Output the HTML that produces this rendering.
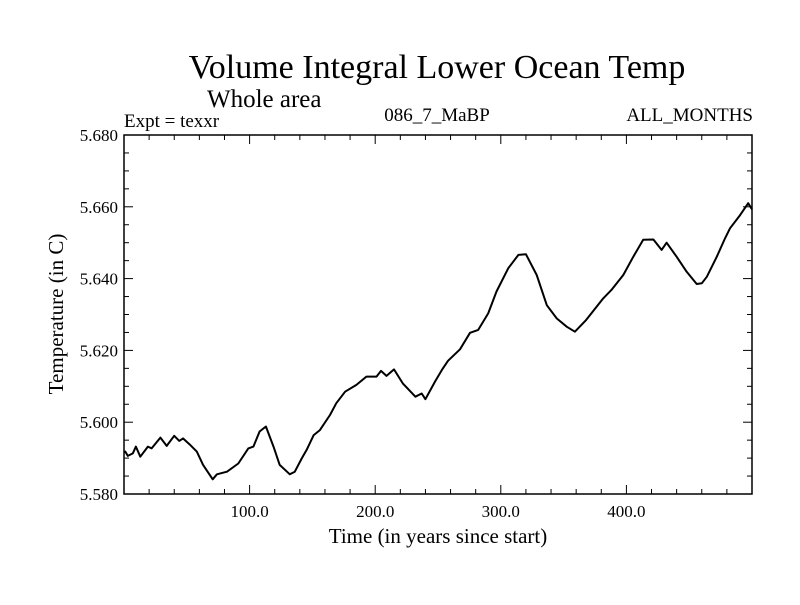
<!DOCTYPE html>
<html><head><meta charset="utf-8"><style>
body{margin:0;background:#fff}
svg text{font-family:"Liberation Serif",serif;fill:#000}
</style></head><body>
<svg id="chart" width="800" height="600" xmlns="http://www.w3.org/2000/svg">
<rect width="800" height="600" fill="#fff"/>
<text x="437" y="78" font-size="34" text-anchor="middle">Volume Integral Lower Ocean Temp</text>
<text x="207" y="107" font-size="25">Whole area</text>
<text x="124" y="127" font-size="19">Expt = texxr</text>
<text x="437" y="121" font-size="19" text-anchor="middle">086_7_MaBP</text>
<text x="753" y="121" font-size="19" text-anchor="end">ALL_MONTHS</text>
<text x="0" y="0" font-size="21" text-anchor="middle" transform="translate(63,314) rotate(-90)">Temperature (in C)</text>
<text x="438" y="543" font-size="21" text-anchor="middle">Time (in years since start)</text>
<g id="axes"></g>
<path id="series" fill="none" stroke="#000" stroke-width="2" stroke-linejoin="round"/>
<rect x="124" y="135" width="628" height="359" fill="none" stroke="#000" stroke-width="1.5"/>
</svg>
<script>
const years=[0,1,3,7,9.5,13,19,22,29,34,40,44,47,52,58,63,70.6,74,82,91,99,103,108,113,119,124,132,136,141.5,145.5,151,156,164,169,176,185,193,201,204.6,209,215,222,232,237,240,247.6,253,258,267.5,275.5,282,290,296.6,306,314,320,328.6,336.6,344.5,352.5,359,368,381.6,388,397.5,405.5,413.4,421.5,428,432,440,448,456,460,464,472,478.5,482.5,490.5,497,500];
const temps=[5.5916,5.5918,5.5906,5.5913,5.5932,5.5904,5.5932,5.5927,5.5957,5.5934,5.5962,5.5948,5.5955,5.5939,5.5918,5.5881,5.5841,5.5855,5.5862,5.5885,5.5927,5.5932,5.5974,5.5988,5.5932,5.5881,5.5855,5.5862,5.5899,5.5923,5.5964,5.5978,5.6020,5.6053,5.6085,5.6104,5.6127,5.6127,5.6143,5.6129,5.6147,5.6108,5.6071,5.6080,5.6064,5.6113,5.6145,5.6171,5.6203,5.6249,5.6257,5.6303,5.6364,5.6429,5.6466,5.6468,5.6410,5.6326,5.6289,5.6266,5.6252,5.6285,5.6345,5.6368,5.6410,5.6461,5.6508,5.6509,5.6480,5.6500,5.6461,5.6419,5.6385,5.6387,5.6405,5.6461,5.6512,5.6540,5.6577,5.6610,5.6593];
const xTickLabels=["100.0","200.0","300.0","400.0"];
const xTickValues=[100,200,300,400];
const yTickValues=[5.58,5.60,5.62,5.64,5.66,5.68];
const yTickLabels=["5.580","5.600","5.620","5.640","5.660","5.680"];
const X0=124,X1=752,Y0=494,Y1=135;
const xs=t=>X0+(t-0)/500*(X1-X0);
const ys=v=>Y0-(v-5.58)/0.1*(Y0-Y1);
const NS="http://www.w3.org/2000/svg";
const g=document.getElementById('axes');
function ln(x1,y1,x2,y2,name){const l=document.createElementNS(NS,'line');
l.setAttribute('x1',x1);l.setAttribute('y1',y1);l.setAttribute('x2',x2);l.setAttribute('y2',y2);
l.setAttribute('stroke','#000');l.setAttribute('stroke-width','1');


g.appendChild(l);}
function tx(x,y,s,anchor,name){const t=document.createElementNS(NS,'text');
t.setAttribute('x',x);t.setAttribute('y',y);t.setAttribute('font-size','17');t.setAttribute('text-anchor',anchor);t.textContent=s;


g.appendChild(t);}
for(let t=20;t<500;t+=20){const x=xs(t);const major=t%100===0;const len=major?9:5;
ln(x,Y0,x,Y0-len,'x-tick');ln(x,Y1,x,Y1+len,'x-tick-top');}
for(let v=5.585;v<5.6799;v+=0.005){const y=ys(v);const major=Math.abs((v-5.58)/0.02-Math.round((v-5.58)/0.02))<1e-6;const len=major?9:5;
ln(X0,y,X0+len,y,'y-tick');ln(X1,y,X1-len,y,'y-tick-right');}
xTickValues.forEach((v,i)=>tx(xs(v),Y0+23,xTickLabels[i],'middle','x-tick-label'));
yTickValues.forEach((v,i)=>tx(X0-6,ys(v)+6,yTickLabels[i],'end','y-tick-label'));
document.getElementById('series').setAttribute('d',years.map((t,i)=>(i?'L':'M')+xs(t).toFixed(1)+','+ys(temps[i]).toFixed(1)).join(''));
</script>
</body></html>
